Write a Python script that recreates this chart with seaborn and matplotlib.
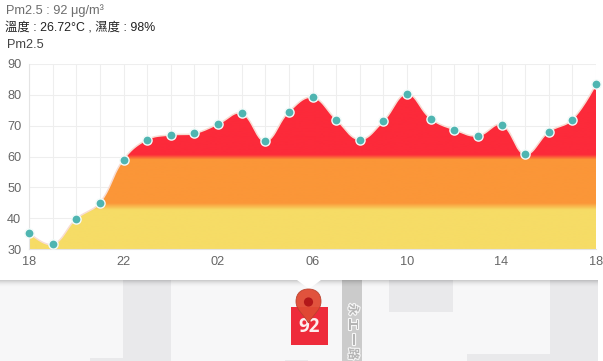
import numpy as np
import pandas as pd
import matplotlib
matplotlib.use("Agg")
import matplotlib.pyplot as plt
import matplotlib.patheffects as pe
import seaborn as sns
from matplotlib.colors import LinearSegmentedColormap
from matplotlib.patches import Rectangle, Polygon, Circle, PathPatch
from matplotlib.path import Path

hours = list(range(25))
pm25 = [35.3, 31.5, 39.8, 45.0, 59.0, 65.5, 67.0, 67.5, 70.5, 74.0, 65.0, 74.5, 79.2,
        72.0, 65.5, 71.5, 80.3, 72.3, 68.7, 66.7, 70.3, 60.7, 68.0, 72.0, 83.5]
tick_hours = [0, 4, 8, 12, 16, 20, 24]
tick_labels = ["18", "22", "02", "06", "10", "14", "18"]
y_ticks = [30, 40, 50, 60, 70, 80, 90]
info_line1 = "Pm2.5 : 92 μg/m³"
info_line2 = "溫度 : 26.72°C , 濕度 : 98%"
chart_title = "Pm2.5"
marker_value = "92"
road_chars = ["永", "工", "一", "路"]

W, H = 603, 361
sns.set_theme(style="white")
plt.rcParams["font.family"] = ["Liberation Sans", "Noto Sans CJK TC", "DejaVu Sans"]

fig = plt.figure(figsize=(W / 100, H / 100), dpi=100, facecolor="white")

# Page layer in pixel coordinates
bg = fig.add_axes([0, 0, 1, 1], zorder=0)
bg.set_xlim(0, W)
bg.set_ylim(H, 0)
bg.axis("off")

def rect(x0, y0, x1, y1, color, z=1, **kw):
    bg.add_patch(Rectangle((x0, y0), x1 - x0, y1 - y0, facecolor=color, edgecolor="none", zorder=z, **kw))

rect(0, 280, 598, 361, "#f7f7f8")
for block in [(123, 280, 171, 361), (90, 358, 123, 361), (389, 280, 453, 312),
              (550, 280, 598, 361), (467, 354, 550, 361), (285, 360, 308, 361)]:
    rect(*block, "#e9e9eb", z=2)
rect(342, 280, 362, 361, "#cbcbcb", z=3)
for i, ch in enumerate(road_chars):
    bg.text(352.5, 309.5 + i * 14.8, ch, rotation=-90, ha="center", va="center", fontsize=8.6,
            color="#b4b4b4", fontweight="bold", zorder=4,
            path_effects=[pe.withStroke(linewidth=1.6, foreground="#f6f6f6")])
for k in range(7):
    rect(0, 280 + k, 598, 281 + k, "#000000", z=5, alpha=0.17 * (1 - k / 7) ** 2)
bg.add_patch(Polygon([(297, 280), (321, 280), (309, 289)], closed=True, facecolor="#ffffff",
                     edgecolor="none", zorder=6))

# Map marker
rect(291, 307, 328, 344.5, "#ee2b3b", z=7)
bg.text(309.5, 326.5, marker_value, ha="center", va="center", color="#fdeeee", fontsize=13.5,
        fontweight="bold", family=["Open Sans", "DejaVu Sans"], zorder=8)
cx, cy, r = 308.5, 301.5, 12.5
pin = Path([(cx, 323), (cx - 5, 314), (cx - r, 310), (cx - r, cy), (cx - r, 293), (cx - 7, 289), (cx, 289),
            (cx + 7, 289), (cx + r, 293), (cx + r, cy), (cx + r, 310), (cx + 5, 314), (cx, 323)],
           [Path.MOVETO] + [Path.CURVE4] * 12)
bg.add_patch(PathPatch(pin, facecolor="#e04a33", edgecolor="#b8402c", linewidth=0.6, alpha=0.95, zorder=9))
bg.add_patch(Circle((cx, 302), 4.6, facecolor="#b3181a", edgecolor="none", zorder=10))

# Header text
bg.text(5.5, 10.5, info_line1, ha="left", va="center", fontsize=9.2, color="#6d6d6d", zorder=6)
bg.text(5, 27, info_line2, ha="left", va="center", fontsize=8.9, color="#222222", zorder=6)
bg.text(7, 45, chart_title, ha="left", va="center", fontsize=9.2, color="#444444", zorder=6)

# Chart
L, R, T, B = 29, 596, 64, 249
ax = fig.add_axes([L / W, 1 - B / H, (R - L) / W, (B - T) / H], zorder=2)
ax.patch.set_alpha(0)
df = pd.DataFrame({"hour": hours, "pm25": pm25})

def smooth(x, y, tension=0.4, n=24):
    sx, sy = (R - L) / 24, (B - T) / 60
    p = np.column_stack([np.asarray(x, float) * sx, np.asarray(y, float) * sy])
    cp_in, cp_out = p.copy(), p.copy()
    for i in range(1, len(p) - 1):
        d01 = np.hypot(*(p[i] - p[i - 1]))
        d12 = np.hypot(*(p[i + 1] - p[i]))
        s = d01 / (d01 + d12)
        v = p[i + 1] - p[i - 1]
        cp_in[i] = p[i] - tension * s * v
        cp_out[i] = p[i] + tension * (1 - s) * v
    t = np.linspace(0, 1, n)[:, None]
    seg = [(1 - t) ** 3 * p[i] + 3 * (1 - t) ** 2 * t * cp_out[i] + 3 * (1 - t) * t ** 2 * cp_in[i + 1] + t ** 3 * p[i + 1]
           for i in range(len(p) - 1)]
    c = np.vstack(seg)
    return c[:, 0] / sx, c[:, 1] / sy

cx_s, cy_s = smooth(df["hour"], df["pm25"])
grad_stops = [(30, "#f6dc66"), (42.6, "#f6dc66"), (44.8, "#fb9638"), (59.0, "#fb9638"), (60.6, "#fc2a3a"), (90, "#fc2a3a")]
cmap = LinearSegmentedColormap.from_list("aqi", [((v - 30) / 60, c) for v, c in grad_stops])
img = ax.imshow(np.linspace(0, 1, 600)[:, None], origin="lower", extent=(0, 24, 30, 90), aspect="auto",
                cmap=cmap, vmin=0, vmax=1, zorder=2)
area = Polygon(np.column_stack([np.r_[cx_s, 24, 0], np.r_[cy_s, 30, 30]]), closed=True, transform=ax.transData,
               facecolor="none", edgecolor="none")
ax.add_patch(area)
img.set_clip_path(area)
ax.plot(cx_s, cy_s, color="#f8ddd4", linewidth=1.1, zorder=3, solid_capstyle="round")
sns.lineplot(data=df, x="hour", y="pm25", ax=ax, linestyle="none", marker="o", markersize=6.6,
             markerfacecolor="#4fb5b1", markeredgecolor="#f4fbfa", markeredgewidth=1.0, color="#4fb5b1",
             errorbar=None, zorder=5, clip_on=False)

ax.set_xlim(0, 24)
ax.set_ylim(30, 90)
ax.set_xticks(hours, minor=True)
ax.set_xticks(tick_hours)
ax.set_xticklabels(tick_labels)
ax.set_yticks(y_ticks)
ax.set_xlabel("")
ax.set_ylabel("")
ax.grid(True, which="major", color="#eeeeee", linewidth=0.8, zorder=0)
ax.grid(True, which="minor", axis="x", color="#eeeeee", linewidth=0.8, zorder=0)
ax.set_axisbelow(True)
ax.tick_params(axis="x", which="both", length=0, pad=5, labelsize=9.2, labelcolor="#666666")
ax.tick_params(axis="y", which="both", length=4, color="#e9e9e9", width=0.8, pad=1.5, labelsize=9.2, labelcolor="#666666")
for side, sp in ax.spines.items():
    sp.set_visible(side in ("left", "bottom"))
    sp.set_color("#e4e4e4")
    sp.set_linewidth(0.8)

fig.savefig("out.png", dpi=100)
